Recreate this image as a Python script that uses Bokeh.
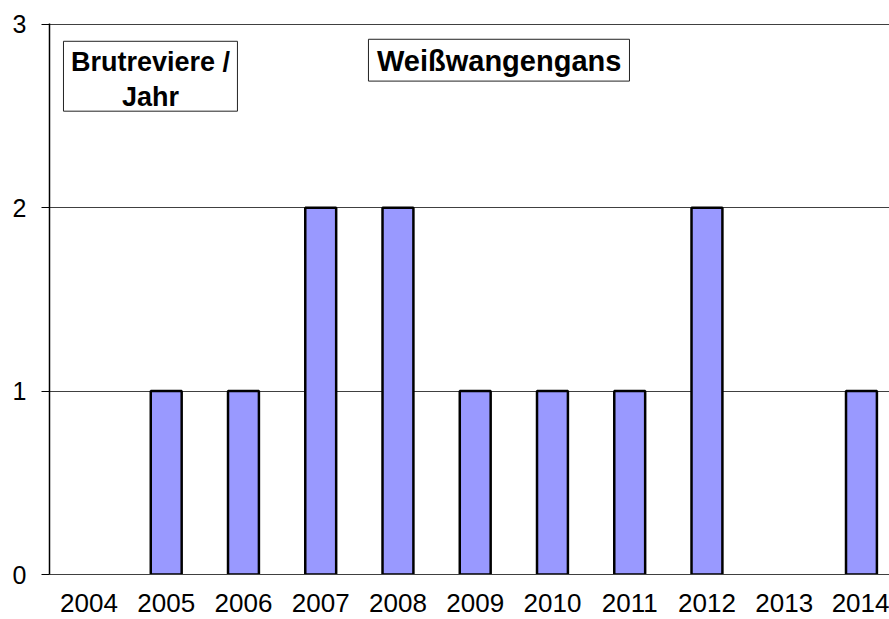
from bokeh.plotting import figure
from bokeh.models import FixedTicker, Range1d, Label, BoxAnnotation
from bokeh.embed import file_html
from bokeh.resources import INLINE

years = [2004, 2005, 2006, 2007, 2008, 2009, 2010, 2011, 2012, 2013, 2014]
territories = [0, 1, 1, 2, 2, 1, 1, 1, 2, 0, 1]
y_ticks = [0, 1, 2, 3]
title_text = "Weißwangengans"
unit_lines = ["Brutreviere /", "Jahr"]

FONT = "Liberation Sans"

p = figure(width=889, height=619, output_backend="svg", toolbar_location=None,
           x_range=Range1d(2003.489, 2014.363), y_range=Range1d(0, 3.004),
           min_border_left=49, min_border_right=0, min_border_top=23, min_border_bottom=45)
p.outline_line_color = None
p.background_fill_color = "white"
p.border_fill_color = "white"

p.xgrid.grid_line_color = None
p.ygrid.ticker = FixedTicker(ticks=y_ticks)
p.ygrid.grid_line_color = "#404040"
p.ygrid.grid_line_width = 1

xa = p.xaxis[0]
xa.ticker = FixedTicker(ticks=years)
xa.major_tick_line_color = None
xa.major_tick_out = 0
xa.major_tick_in = 0
xa.minor_tick_line_color = None
xa.axis_line_color = "#404040"
xa.major_label_text_font = FONT
xa.major_label_text_font_size = "26px"
xa.major_label_text_line_height = 0.9
xa.major_label_text_color = "black"
xa.major_label_standoff = 19

ya = p.yaxis[0]
ya.ticker = FixedTicker(ticks=y_ticks)
ya.major_tick_out = 8
ya.major_tick_in = 0
ya.major_tick_line_color = "black"
ya.minor_tick_line_color = None
ya.axis_line_color = "black"
ya.axis_line_width = 1.5
ya.major_label_text_font = FONT
ya.major_label_text_font_size = "25px"
ya.major_label_text_color = "black"
ya.major_label_standoff = 15

bx = [x for x, v in zip(years, territories) if v > 0]
bt = [v for v in territories if v > 0]
p.vbar(x=bx, top=bt, bottom=0, width=0.40, fill_color="#9999FF",
       line_color="black", line_width=2.5)

# annotation boxes
p.add_layout(BoxAnnotation(left=2003.670, right=2005.922, bottom=2.526, top=2.907,
                           fill_color="white", fill_alpha=1, line_color="#222222",
                           line_alpha=1, line_width=1, level="overlay"))
p.add_layout(BoxAnnotation(left=2007.618, right=2010.997, bottom=2.690, top=2.918,
                           fill_color="white", fill_alpha=1, line_color="#222222",
                           line_alpha=1, line_width=1, level="overlay"))

p.add_layout(Label(x=2004.796, y=2.793, text=unit_lines[0], text_align="center",
                   text_baseline="middle", text_font=FONT, text_font_size="27px",
                   text_font_style="bold", text_color="black", level="overlay"))
p.add_layout(Label(x=2004.796, y=2.602, text=unit_lines[1], text_align="center",
                   text_baseline="middle", text_font=FONT, text_font_size="27px",
                   text_font_style="bold", text_color="black", level="overlay"))
p.add_layout(Label(x=2009.31, y=2.800, text=title_text, text_align="center",
                   text_baseline="middle", text_font=FONT, text_font_size="29px",
                   text_font_style="bold", text_color="black", level="overlay"))

open("out.html", "w").write(file_html(p, INLINE))
